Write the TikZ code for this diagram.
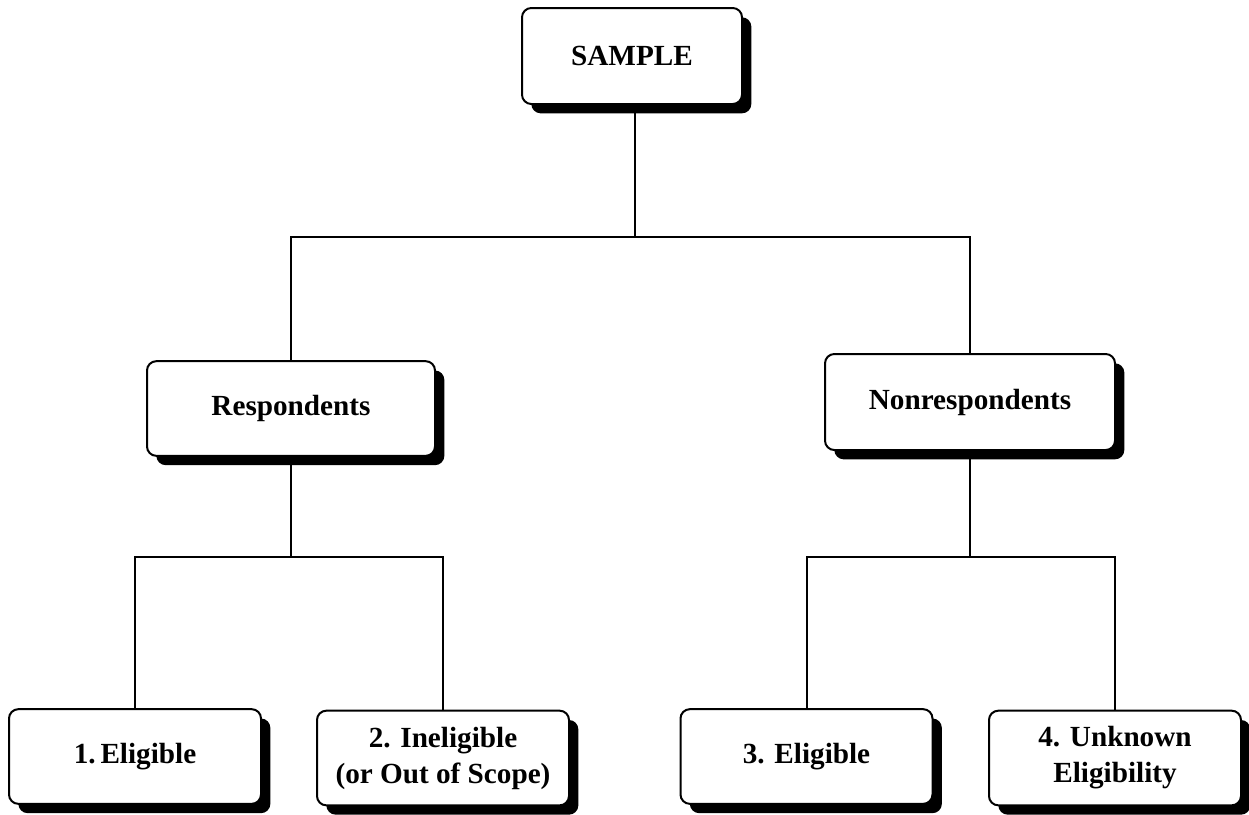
\documentclass[tikz,border=0pt]{standalone}
\usepackage{fontspec}
\setmainfont{Liberation Serif}
\usepackage{tikz}
\usetikzlibrary{shadows}

\tikzset{
  chartbox/.style={draw, line width=1.5pt, fill=white, rounded corners=7pt,
    align=center, inner sep=0pt, minimum height=71pt,
    font=\fontsize{21.9}{27}\selectfont\bfseries,
    drop shadow={shadow xshift=7pt, shadow yshift=-7pt, fill=black, opacity=1}},
  link/.style={line width=1.5pt}
}

\begin{document}
\begin{tikzpicture}[x=0.75pt,y=0.75pt,yscale=-1,xscale=1]
\useasboundingbox (0,0) rectangle (1249,814);

%Shape: Box [id:sample]
\node [chartbox, minimum width=165pt, minimum height=72pt] (sample) at (632,56) {SAMPLE};
%Shape: Box [id:resp]
\node [chartbox, minimum width=216pt] (resp) at (291,408.5) {Respondents};
%Shape: Box [id:nonresp]
\node [chartbox, minimum width=217.5pt, minimum height=72pt] (nonresp) at (970,402) {Nonrespondents};
%Shape: Box [id:elig1]
\node [chartbox, minimum width=189pt] (elig1) at (135,756.5) {1.\,Eligible};
%Shape: Box [id:inelig]
\node [chartbox, minimum width=189pt] (inelig) at (443,758) {2. Ineligible\\(or Out of Scope)};
%Shape: Box [id:elig3]
\node [chartbox, minimum width=189pt] (elig3) at (806.5,756.5) {3. Eligible};
%Shape: Box [id:unknown]
\node [chartbox, minimum width=189pt] (unknown) at (1115,758) {4. Unknown\\Eligibility};

% split points
\coordinate (split0) at (635,237);
\coordinate (split1) at (291,557);
\coordinate (split2) at (970,557);

% Connectors
\draw [link] (sample.south -| split0) -- (split0);
\draw [link] (resp.north) |- (split0) -| (nonresp.north);
\draw [link] (resp.south) -- (split1);
\draw [link] (elig1.north) |- (split1) -| (inelig.north);
\draw [link] (nonresp.south) -- (split2);
\draw [link] (elig3.north) |- (split2) -| (unknown.north);

\end{tikzpicture}
\end{document}
